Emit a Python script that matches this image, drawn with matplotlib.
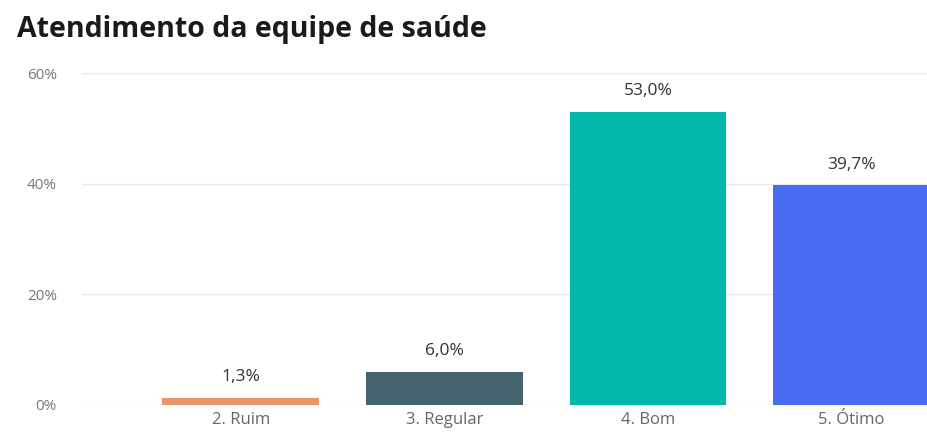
import numpy as np
import matplotlib.pyplot as plt

categorias = ['2. Ruim', '3. Regular', '4. Bom', '5. Ótimo']
valores = [1.3, 6.0, 53.0, 39.7]
cores = ['#E8956B', '#44646F', '#01B8AA', '#4A6CF5']
yticks = [0, 20, 40, 60]

plt.rcParams['font.family'] = ['Open Sans', 'DejaVu Sans']

fig = plt.figure(figsize=(9.27, 4.38), dpi=100)
ax = fig.add_axes([82/927, 1-405/438, 1-82/927, (405-73)/438])

x = np.arange(len(categorias))
barras = ax.bar(x, valores, width=0.77, color=cores, zorder=3)

for b, v in zip(barras, valores):
    ax.annotate(f'{v:.1f}%'.replace('.', ','),
                (b.get_x() + b.get_width()/2, v),
                xytext=(0, 9), textcoords='offset points',
                ha='center', va='bottom', fontsize=12.5, color='#333333')

ax.set_xlim(-0.78, 3.37)
ax.set_ylim(0, 60)
ax.set_yticks(yticks)
ax.set_yticklabels([f'{t}%' for t in yticks], fontsize=11, color='#777777')
ax.set_xticks(x)
ax.set_xticklabels(categorias, fontsize=12, color='#666666')
ax.tick_params(length=0)
ax.tick_params(axis='y', pad=18)
ax.tick_params(axis='x', pad=5)
ax.grid(axis='y', color='#EAEAEA', linewidth=1, zorder=0)
ax.set_axisbelow(True)
for s in ax.spines.values():
    s.set_visible(False)

fig.text(17/927, 1-29/438, 'Atendimento da equipe de saúde', fontsize=20.5,
         fontweight='bold', color='#1a1a1a', va='center', ha='left')

fig.savefig('out.png', dpi=100)
